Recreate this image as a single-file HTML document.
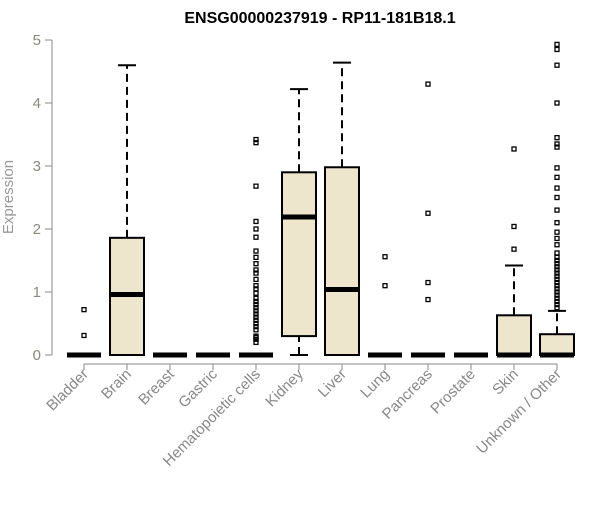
<!DOCTYPE html>
<html><head><meta charset="utf-8"><style>
body{margin:0;background:#fff}
svg{font-family:"Liberation Sans",Arial,sans-serif}
</style></head><body>
<svg width="600" height="500" id="c"></svg>
<script>
const categories=["Bladder","Brain","Breast","Gastric","Hematopoietic cells","Kidney","Liver","Lung","Pancreas","Prostate","Skin","Unknown / Other"];
const lowW=[0,0,0,0,0,0,0,0,0,0,0,0];
const q1=[0,0,0,0,0,0.3,0,0,0,0,0,0];
const med=[0,0.96,0,0,0,2.19,1.04,0,0,0,0,0];
const q3=[0,1.86,0,0,0,2.9,2.98,0,0,0,0.63,0.33];
const highW=[0,4.6,0,0,0,4.22,4.64,0,0,0,1.42,0.7];
const outliers=[[0.72,0.31],[],[],[],[3.42,3.37,2.68,2.12,2.0,1.87,1.65,1.55,1.45,1.35,1.3,1.2,1.1,1.05,0.98,0.9,0.85,0.8,0.75,0.7,0.65,0.6,0.55,0.5,0.45,0.4,0.3,0.28,0.25,0.2],[],[],[1.56,1.1],[4.3,2.25,1.15,0.88],[],[3.27,2.04,1.68],[4.93,4.85,4.6,4.0,3.45,3.35,3.3,2.97,2.82,2.65,2.5,2.3,2.1,1.95,1.85,1.75,1.62,1.55,1.5,1.45,1.4,1.35,1.3,1.25,1.2,1.15,1.1,1.05,1.0,0.95,0.9,0.85,0.8,0.75]];
const yTicks=[0,1,2,3,4,5];
const NS="http://www.w3.org/2000/svg";
const svg=document.getElementById("c");
const y=v=>355-63*v;
const x=i=>84+43*i;
function mk(tag,attrs,parent){const e=document.createElementNS(NS,tag);for(const k in attrs)e.setAttribute(k,attrs[k]);(parent||svg).appendChild(e);return e;}
let t=mk("text",{x:320,y:23,"text-anchor":"middle","font-size":16,"font-weight":"bold"});
t.textContent="ENSG00000237919 - RP11-181B18.1";


let ax=mk("line",{x1:52,y1:y(0),x2:52,y2:y(5),stroke:"#888"});


yTicks.forEach(v=>{
 mk("line",{x1:45,x2:52,y1:y(v),y2:y(v),stroke:"#888"});
 const l=mk("text",{x:41,y:y(v)+5,"text-anchor":"end","font-size":15,fill:"#8a8a82"});
 l.textContent=v;
 
 
});
let yt=mk("text",{transform:"translate(13,197) rotate(-90)","text-anchor":"middle","font-size":15,fill:"#999"});
yt.textContent="Expression";


let xa=mk("line",{x1:x(0),x2:x(11),y1:364,y2:364,stroke:"#888"});


const hw=17;
categories.forEach((c,i)=>{
 const cx=x(i);
 const g=mk("g",{});
 
 
 mk("line",{x1:cx,x2:cx,y1:364,y2:370,stroke:"#888"});
 if(highW[i]>q3[i]){
  mk("line",{x1:cx,x2:cx,y1:y(q3[i]),y2:y(highW[i]),stroke:"#000","stroke-width":2,"stroke-dasharray":"8,5"},g);
  mk("line",{x1:cx-9,x2:cx+9,y1:y(highW[i]),y2:y(highW[i]),stroke:"#000","stroke-width":2},g);
 }
 if(q1[i]>lowW[i]){
  mk("line",{x1:cx,x2:cx,y1:y(lowW[i]),y2:y(q1[i]),stroke:"#000","stroke-width":2,"stroke-dasharray":"8,5"},g);
  mk("line",{x1:cx-9,x2:cx+9,y1:y(lowW[i]),y2:y(lowW[i]),stroke:"#000","stroke-width":2},g);
 }
 if(q3[i]>q1[i]) mk("rect",{x:cx-hw,y:y(q3[i]),width:2*hw,height:y(q1[i])-y(q3[i]),fill:"#ede6cc",stroke:"#000","stroke-width":2},g);
 mk("line",{x1:cx-hw,x2:cx+hw,y1:y(med[i]),y2:y(med[i]),stroke:"#000","stroke-width":5},g);
 outliers[i].forEach(v=>{
  const p=mk("rect",{x:cx-2,y:y(v)-2,width:4,height:4,fill:"none",stroke:"#000","stroke-width":1.3},g);
  
  
 });
 const l=mk("text",{transform:`translate(${cx+5},${375}) rotate(-45)`,"text-anchor":"end","font-size":15,fill:"#888"});
 l.textContent=c;
 
 
});
</script>
</body></html>
